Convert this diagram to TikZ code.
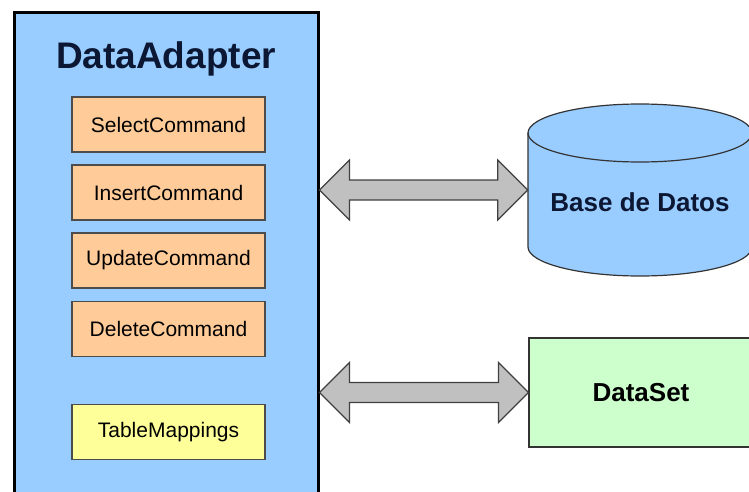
\documentclass[tikz,border=0pt]{standalone}
\usepackage{fontspec}
\setmainfont{Liberation Sans}
\usepackage{tikz}
\usetikzlibrary{calc,positioning}
\usepackage{xcolor}
\definecolor{adblue}{HTML}{99CCFF}
\definecolor{cmdorange}{HTML}{FFCC99}
\definecolor{mapyellow}{HTML}{FFFF99}
\definecolor{setgreen}{HTML}{CCFFCC}
\definecolor{arrowgray}{HTML}{C0C0C0}
\definecolor{navytext}{HTML}{0B1733}
\tikzstyle{adapterbox}=[draw=black, line width=3pt, fill=adblue, inner sep=0pt, minimum width=304, minimum height=500]
\tikzstyle{cmdbox}=[draw=black!70, line width=1.2pt, fill=cmdorange, inner sep=0pt, minimum width=193, minimum height=55, font=\fontsize{21}{24}\selectfont]
\tikzstyle{mapbox}=[cmdbox, fill=mapyellow]
\tikzstyle{setbox}=[draw=black!80, line width=1.2pt, fill=setgreen, inner sep=0pt, minimum width=224, minimum height=109, font=\bfseries\fontsize{26}{30}\selectfont]
\tikzstyle{bigarrow}=[draw=black!75, line width=1.2pt, fill=arrowgray, line join=miter]
\newcommand{\dblarrow}[2]{%
 \filldraw[bigarrow] let \p1=(#1), \p2=(#2) in
  (\x1,\y1) -- (\x1+30pt,\y1+30pt) -- (\x1+30pt,\y1+10pt) -- (\x2-30pt,\y1+10pt)
  -- (\x2-30pt,\y1+30pt) -- (\x2,\y1) -- (\x2-30pt,\y1-30pt) -- (\x2-30pt,\y1-10pt)
  -- (\x1+30pt,\y1-10pt) -- (\x1+30pt,\y1-30pt) -- cycle;}

\begin{document}
\begin{tikzpicture}[x=1pt,y=-1pt]
\useasboundingbox (0,0) rectangle (749,492);
\clip (0,0) rectangle (749,492);
\fill[white] (0,0) rectangle (749,492);

% DataAdapter and its commands
\node[adapterbox] (adapter) at (166,263) {};
\node[font=\bfseries\fontsize{37}{40}\selectfont, text=navytext] (title) at (166,59) {DataAdapter};
\foreach \n/\y/\t in {select/124.5/SelectCommand, insert/192.5/InsertCommand, update/260.5/UpdateCommand, delete/329/DeleteCommand} {
 \node[cmdbox] (\n) at (168.5,\y) {\t};
}
\node[mapbox, below=47pt of delete] (mappings) {TableMappings};

% database cylinder
\coordinate (dbc) at (640,190);
\begin{scope}[shift={(dbc)}]
 \filldraw[draw=black!80, line width=1.2pt, fill=adblue] (-112,-57) -- (-112,57)
  arc[start angle=180, end angle=0, x radius=112, y radius=29] -- (112,-57)
  arc[start angle=0, end angle=-180, x radius=112, y radius=29] -- cycle;
 \draw[black!80, line width=1.2pt] (-112,-57) arc[start angle=180, end angle=0, x radius=112, y radius=29];
\end{scope}
\node[inner sep=0pt, minimum width=224, minimum height=174, font=\bfseries\fontsize{26}{30}\selectfont, text=navytext] (db) at ([yshift=-12pt]dbc) {Base de Datos};

% DataSet
\node[setbox] (dataset) at (641,392.5) {DataSet};

% connectors
\dblarrow{adapter.east |- dbc}{db.west |- dbc}
\dblarrow{adapter.east |- dataset.west}{dataset.west}
\end{tikzpicture}
\end{document}
